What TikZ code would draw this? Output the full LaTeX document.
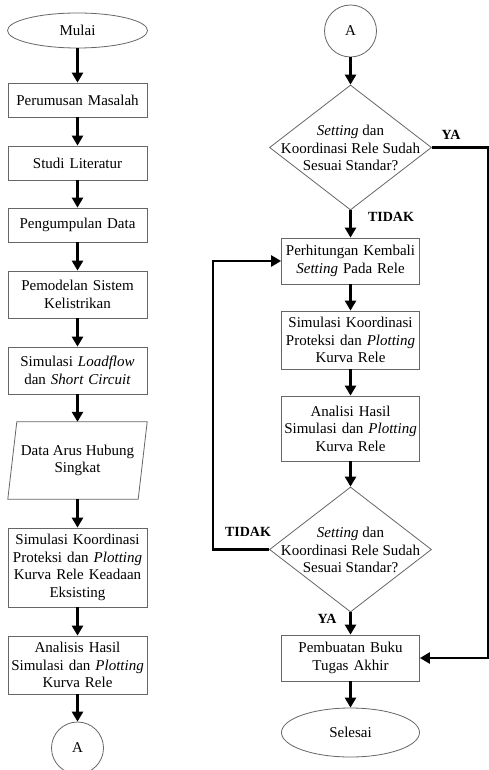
\documentclass[tikz,border=0pt]{standalone}
\usepackage{fontspec}
\setmainfont{Liberation Serif}
\usetikzlibrary{shapes.geometric,arrows.meta}
\begin{document}
\begin{tikzpicture}[x=1pt,y=-1pt,
  outline/.style={draw=black!60, line width=0.8pt},
  bodyfont/.style={font=\fontsize{15}{17.4}\selectfont},
  proc/.style={outline, rectangle, minimum width=139pt, text width=137pt, align=center, inner sep=0pt, bodyfont},
  term/.style={outline, ellipse, inner sep=0pt, bodyfont},
  conn/.style={outline, circle, minimum size=52pt, inner sep=0pt, bodyfont},
  dec/.style={outline, diamond, minimum width=162pt, minimum height=125pt, inner sep=0pt},
  dectext/.style={align=center, inner sep=0pt, bodyfont},
  flow/.style={line width=2.5pt, -{Triangle[length=10pt,width=11pt]}},
  lab/.style={font=\bfseries\fontsize{14}{15}\selectfont, inner sep=0pt}]
\useasboundingbox (0,0) rectangle (488,770);
\fill[white] (0,0) rectangle (488,770);

% left column
\node[term, minimum width=140pt, minimum height=35pt] (mulai) at (77.5,30.5) {Mulai};
\node[proc, minimum height=34pt] (p1) at (77.5,100) {Perumusan Masalah};
\node[proc, minimum height=34pt] (p2) at (77.5,163) {Studi Literatur};
\node[proc, minimum height=34pt] (p3) at (77.5,225) {Pengumpulan Data};
\node[proc, minimum height=47pt] (p4) at (77.5,294.5) {Pemodelan Sistem\\Kelistrikan};
\node[proc, minimum height=47pt] (p5) at (77.5,370.5) {Simulasi \textit{Loadflow}\\dan \textit{Short Circuit}};
\node[align=center, inner sep=0pt, minimum width=139pt, minimum height=77pt, bodyfont] (data) at (77.5,460.5) {Data Arus Hubung\\Singkat};
\draw[outline] ([xshift=9pt]data.north west) -- (data.north east) -- ([xshift=-9pt]data.south east) -- (data.south west) -- cycle;
\node[proc, minimum height=79pt] (p6) at (77.5,567.5) {Simulasi Koordinasi\\Proteksi dan \textit{Plotting}\\Kurva Rele Keadaan\\Eksisting};
\node[proc, minimum height=58pt] (p7) at (77.5,665) {Analisis Hasil\\Simulasi dan \textit{Plotting}\\Kurva Rele};
\node[conn] (a1) at (77.5,748) {A};

\draw[flow] (mulai) -- (p1);
\draw[flow] (p1) -- (p2);
\draw[flow] (p2) -- (p3);
\draw[flow] (p3) -- (p4);
\draw[flow] (p4) -- (p5);
\draw[flow] (p5) -- (data);
\draw[flow] (data) -- (p6);
\draw[flow] (p6) -- (p7);
\draw[flow] (p7) -- (a1);

% right column
\node[conn] (a2) at (350.5,31) {A};
\node[dec] (d1) at (350.5,147.5) {};
\node[dectext] (d1t) at (350.5,148) {\textit{Setting} dan\\Koordinasi Rele Sudah\\Sesuai Standar?};
\node[proc, minimum width=138pt, minimum height=46pt] (r1) at (350.5,261) {Perhitungan Kembali\\\textit{Setting} Pada Rele};
\node[proc, minimum width=138pt, minimum height=58pt] (r2) at (350.5,340) {Simulasi Koordinasi\\Proteksi dan \textit{Plotting}\\Kurva Rele};
\node[proc, minimum width=138pt, minimum height=65pt] (r3) at (350.5,428.5) {Analisi Hasil\\Simulasi dan \textit{Plotting}\\Kurva Rele};
\node[dec] (d2) at (350.5,549.5) {};
\node[dectext] (d2t) at (350.5,550) {\textit{Setting} dan\\Koordinasi Rele Sudah\\Sesuai Standar?};
\node[proc, minimum width=138pt, minimum height=46pt] (r4) at (350.5,658) {Pembuatan Buku\\Tugas Akhir};
\node[term, minimum width=138pt, minimum height=49pt] (selesai) at (350.5,732.5) {Selesai};

\coordinate (yaR) at (488,147.5);
\coordinate (loopL) at (213,549.5);

\draw[flow] (a2) -- (d1);
\draw[flow] (d1) -- (r1);
\draw[flow] (r1) -- (r2);
\draw[flow] (r2) -- (r3);
\draw[flow] (r3) -- (d2);
\draw[flow] (d2) -- (r4);
\draw[flow] (r4) -- (selesai);
\draw[flow] (d1.east) -- (yaR) |- (r4.east);
\draw[flow] (d2.west) -- (loopL) |- (r1.west);

\node[lab] (ya1) at (451,135) {YA};
\node[lab] (tidak1) at (391,217) {TIDAK};
\node[lab] (tidak2) at (248,532) {TIDAK};
\node[lab] (ya2) at (327,619) {YA};
\end{tikzpicture}
\end{document}
